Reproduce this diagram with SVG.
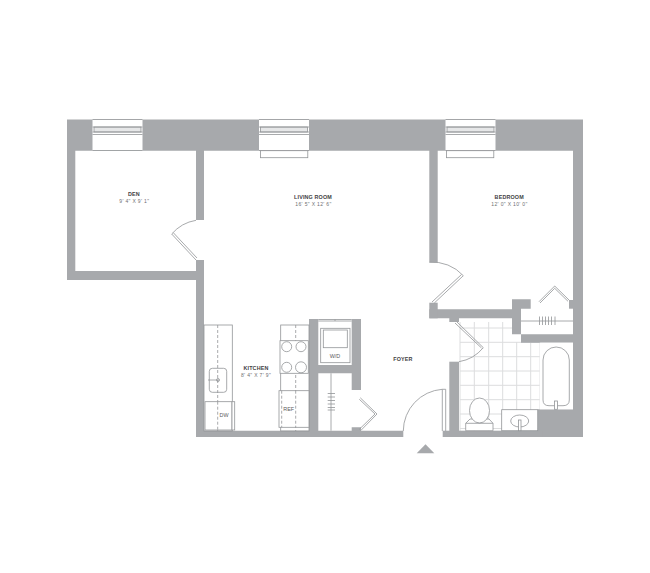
<svg xmlns="http://www.w3.org/2000/svg" width="650" height="573" viewBox="0 0 650 573">
<style>
.w{fill:#a7a9ac}
.l{fill:none;stroke:#929497;stroke-width:.8}
.f{fill:#fff;stroke:#929497;stroke-width:.8}
.t{fill:none;stroke:#dcddde;stroke-width:1}
.n{font:700 5.4px "Liberation Sans",sans-serif;letter-spacing:.15px;text-anchor:middle;fill:#414042}
.d{font:400 5px "Liberation Sans",sans-serif;letter-spacing:.35px;text-anchor:middle;fill:#6d6e71}
.a{font:400 5.4px "Liberation Sans",sans-serif;text-anchor:middle;fill:#58595b}
</style>
<defs>
<g id="win">
<rect x="0" y="0" width="50" height="31" fill="#fff"/>
<rect x="1.500" y="7.500" width="47" height="5" fill="#e6e7e8" stroke="#929497" stroke-width=".8"/>
<path class="l" d="M0 0H50M0 15H50M0 31H50M0 7.500H50M0 12.500H50"/>
</g>
</defs>
<rect width="650" height="573" fill="#fff"/>
<g id="bathroom-tile">
<path class="t" d="M460 328H512M460 342.300H540M460 356.700H540M460 371H540M460 385.300H540M460 399.700H540M460 414H540M460 428.500H540M460 322V431M474.300 322V431M488.700 322V431M502.700 322V431M516.700 342V431M530.700 342V431M540 342V409"/>
</g>
<g id="walls">
<path class="w" d="M67 119.500H583V437H537.700V409.300H573V342.700H512V334.300H521V308.700H530.700V299.300H512V309.300H437.700V262.300H429.300V150.700H437.700V309.300H429.300V318.300H512V342.700H521V334.300H573V150.700H204V220H196V150.700H75.300V271H196V260H204V430.700H309V319H318.300V365H351.700V319H361V390H351.700V373.300H318.300V430.700H351.700V427.300H361V430.700H403.300V437H196V280H67Z"/>
<rect class="w" x="429.300" y="302.700" width="8.400" height="15.600"/>
<rect class="w" x="442.700" y="430.700" width="100" height="6.300"/>
<rect class="w" x="449.300" y="361.700" width="9.700" height="75.300"/>
<rect class="w" x="449.300" y="318" width="9.700" height="4"/>
<rect class="w" x="569" y="300" width="5" height="8.700"/>
</g>
<g id="windows">
<use href="#win" x="92.500" y="119.500"/>
<use href="#win" x="259" y="119.500"/>
<use href="#win" x="445.500" y="119.500"/>
<rect class="f" x="260.500" y="150.700" width="47.300" height="7"/>
<rect class="f" x="446.500" y="150.700" width="47.300" height="7"/>
</g>
<g id="doors">
<path class="l" d="M196 220.300A41 41 0 0 0 171.700 234L196 260M173.300 232.700L197 258"/>
<path class="l" d="M429.300 262.300A41 41 0 0 1 463.300 275.700L434.300 303M461.500 274.500L432 302"/>
<path class="l" d="M459 361.700A40 40 0 0 0 483.300 347.700L456.700 321.700M481.500 348L455 323"/>
<path class="l" d="M403.300 431A42 42 0 0 1 442.300 389.300V431M445.700 389.300V431M442.300 389.300H445.700"/>
<path class="l" d="M359.300 399.300L375 414L359.300 429.300M360.300 397.800L377 414L360.800 430.500"/>
<path class="l" d="M539 301.700L554.700 286L569 300M540 303L554.700 288.300L568 301.300"/>
<path fill="#a7a9ac" d="M416.700 453.300H434.300L425.500 444.300Z"/>
</g>
<g id="bath-fixtures">
<rect x="539.800" y="342.700" width="33.200" height="66.600" fill="#fff" stroke="none"/>
<path class="f" d="M543 360A13.150 13 0 0 1 569.300 360V400Q569.300 405.700 563 405.700H549Q543 405.700 543 400Z"/>
<rect class="f" x="554.500" y="401" width="3" height="8.300"/>
<path class="f" d="M465.700 430.700V423.300L470 419H489L493 423.300V430.700Z"/>
<ellipse class="f" cx="479.500" cy="410.500" rx="10" ry="12.500"/>
<path class="l" d="M465.700 423.300H493"/>
<rect class="f" x="501.700" y="409.700" width="36" height="21"/>
<ellipse class="f" cx="519.700" cy="421" rx="9" ry="6"/>
<rect class="f" x="518.500" y="420" width="2.500" height="10.700"/>
</g>
<g id="kitchen-fixtures">
<rect class="l" x="204" y="325" width="28.300" height="106"/>
<rect class="l" x="280.700" y="325" width="28.300" height="106"/>
<path class="l" stroke-dasharray="3 2" d="M217.700 325V431M295.700 325V431"/>
<rect class="l" x="209.300" y="368.300" width="17.400" height="24" rx="3"/>
<path class="l" d="M208 380H219"/>
<circle class="l" cx="218" cy="380" r="1.500"/>
<rect class="f" x="205" y="401.700" width="27" height="28.300"/>
<rect class="f" x="232" y="401.700" width="2.700" height="28.300"/>
<path class="l" stroke-dasharray="3 2" d="M217.700 401.700V430"/>
<rect class="f" x="280" y="340.700" width="28.300" height="32.600"/>
<circle class="f" cx="286.700" cy="346.700" r="5"/>
<circle class="f" cx="301" cy="346.700" r="5"/>
<circle class="f" cx="286.700" cy="367.300" r="5"/>
<circle class="f" cx="301" cy="367.300" r="5.500"/>
<rect class="f" x="279" y="390.700" width="30" height="36.600"/>
<path class="l" d="M281.700 390.700V427.300M295.700 390.700V427.300" stroke-dasharray="3 2"/>
</g>
<g id="closet-fixtures">
<path class="l" d="M318.300 319.500H351.700M318.300 321H351.700M335 319.500V321"/>
<rect class="f" x="320.700" y="328.300" width="29.300" height="34.400"/>
<rect class="f" x="323.300" y="330" width="24" height="17.700"/>
<path class="l" d="M331 373.300V430.700M327.700 393.500H335M327.700 397H335M327.700 400.500H335M327.700 404H335M327.700 407.500H335M327.700 410H335"/>
<path class="l" d="M521 321H573M539.500 316.500V325M542.500 316.500V325M545.500 316.500V325M548.500 316.500V325M551.500 316.500V325M555 316.500V325"/>
</g>
<g id="labels" opacity=".99">
<text class="n" x="134" y="196">DEN</text>
<text class="d" x="134.300" y="203">9' 4" X 9' 1"</text>
<text class="n" x="313" y="199">LIVING ROOM</text>
<text class="d" x="313.500" y="206">16' 5" X 12' 6"</text>
<text class="n" x="509.200" y="199">BEDROOM</text>
<text class="d" x="509.500" y="206">12' 0" X 10' 0"</text>
<text class="n" x="256" y="370">KITCHEN</text>
<text class="d" x="256" y="377">8' 4" X 7' 9"</text>
<text class="n" x="403" y="360.600">FOYER</text>
<text class="a" x="224" y="416.800">DW</text>
<text class="a" x="288.700" y="411">REF</text>
<text class="a" x="335" y="358">W/D</text>
</g>
</svg>
